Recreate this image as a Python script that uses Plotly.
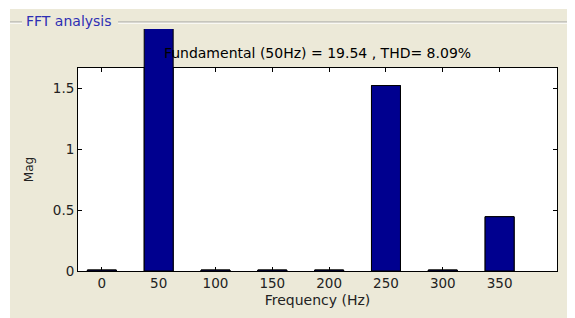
import plotly.graph_objects as go

# ---- data ----
freqs = [0, 50, 100, 150, 200, 250, 300, 350]
mags = [0.008, 19.54, 0.008, 0.008, 0.008, 1.52, 0.008, 0.445]
ytick_vals = [0, 0.5, 1, 1.5]
ytick_text = ["0", "0.5", "1", "1.5"]
xtick_vals = [0, 50, 100, 150, 200, 250, 300, 350]
title_text = "Fundamental (50Hz) = 19.54 , THD= 8.09%"
panel_title = "FFT analysis"

# page body has an 8px margin, so the figure fills the rest of the window
OFF = 8
W, H = 575 - OFF, 318 - OFF
BEIGE = "#ECE9D8"
FONT = "DejaVu Sans"

# layout geometry (window pixels)
ax_l, ax_r = 78, 557
ax_b, ax_t, clip_t = 271, 68, 29
y_top = 1.664
y2_top = y_top * (ax_b - clip_t) / (ax_b - ax_t)

def px(x):
    return (x - OFF) / W

def py(y):
    return (H - (y - OFF)) / H

bar_style = dict(
    width=25.5,
    marker=dict(color="#00008F", line=dict(color="black", width=1)),
    showlegend=False,
)

fig = go.Figure()
# main axes bars (clipped to the axes box)
fig.add_trace(go.Bar(x=freqs, y=mags, xaxis="x", yaxis="y", **bar_style))
# same bars on a taller overlay axis so the fundamental overflows the box like the original
fig.add_trace(go.Bar(x=freqs, y=mags, xaxis="x", yaxis="y2", **bar_style))

fig.update_layout(
    width=W, height=H,
    margin=dict(l=0, r=0, t=0, b=0),
    paper_bgcolor="white",
    plot_bgcolor="rgba(0,0,0,0)",
    font=dict(family=FONT, size=13, color="#222"),
    barmode="overlay",
    xaxis=dict(
        domain=[px(ax_l), px(ax_r)], anchor="y",
        range=[-21, 400.5], tickvals=xtick_vals,
        ticks="inside", ticklen=4, tickcolor="black",
        showline=True, linecolor="black", linewidth=1, mirror="ticks",
        showgrid=False, zeroline=False,
        tickfont=dict(size=13.5, color="#222"),
        title=dict(text="Frequency (Hz)", font=dict(size=14, color="#222"), standoff=4),
        automargin=False,
    ),
    yaxis=dict(
        domain=[py(ax_b), py(ax_t)], anchor="x",
        range=[0, y_top], tickvals=ytick_vals, ticktext=ytick_text,
        ticks="inside", ticklen=4, tickcolor="black",
        showline=True, linecolor="black", linewidth=1, mirror="ticks",
        showgrid=False, zeroline=False,
        tickfont=dict(size=13.5, color="#222"),
        title=dict(text="Mag", font=dict(size=12, color="#222"), standoff=16),
        automargin=False,
    ),
    yaxis2=dict(
        domain=[py(ax_b), py(clip_t)], anchor="x",
        range=[0, y2_top], visible=False, showgrid=False, zeroline=False,
    ),
    title=dict(
        text=title_text, x=(px(ax_l) + px(ax_r)) / 2, xanchor="center",
        y=py(53), yanchor="middle", font=dict(size=14, color="black", family=FONT),
        xref="paper", yref="paper",
    ),
    shapes=[
        # beige panel
        dict(type="rect", xref="paper", yref="paper", x0=px(10), x1=1, y0=0, y1=py(9),
             fillcolor=BEIGE, line=dict(width=0), layer="below"),
        # white axes box
        dict(type="rect", xref="x domain", yref="y domain", x0=0, x1=1, y0=0, y1=1,
             fillcolor="white", line=dict(width=0), layer="below"),
        # etched group line
        dict(type="line", xref="paper", yref="paper", x0=px(10), x1=px(22), y0=py(22), y1=py(22),
             line=dict(color="#A0A0A0", width=1)),
        dict(type="line", xref="paper", yref="paper", x0=px(118), x1=1, y0=py(22), y1=py(22),
             line=dict(color="#A0A0A0", width=1)),
        dict(type="line", xref="paper", yref="paper", x0=px(10), x1=px(22), y0=py(23.2), y1=py(23.2),
             line=dict(color="white", width=1)),
        dict(type="line", xref="paper", yref="paper", x0=px(118), x1=1, y0=py(23.2), y1=py(23.2),
             line=dict(color="white", width=1)),
    ],
    annotations=[
        dict(text=panel_title, xref="paper", yref="paper", x=px(24), y=py(21),
             xanchor="left", yanchor="middle", showarrow=False,
             font=dict(size=14, color="#2E2EB4", family=FONT)),
    ],
)

fig.write_html("out.html")
